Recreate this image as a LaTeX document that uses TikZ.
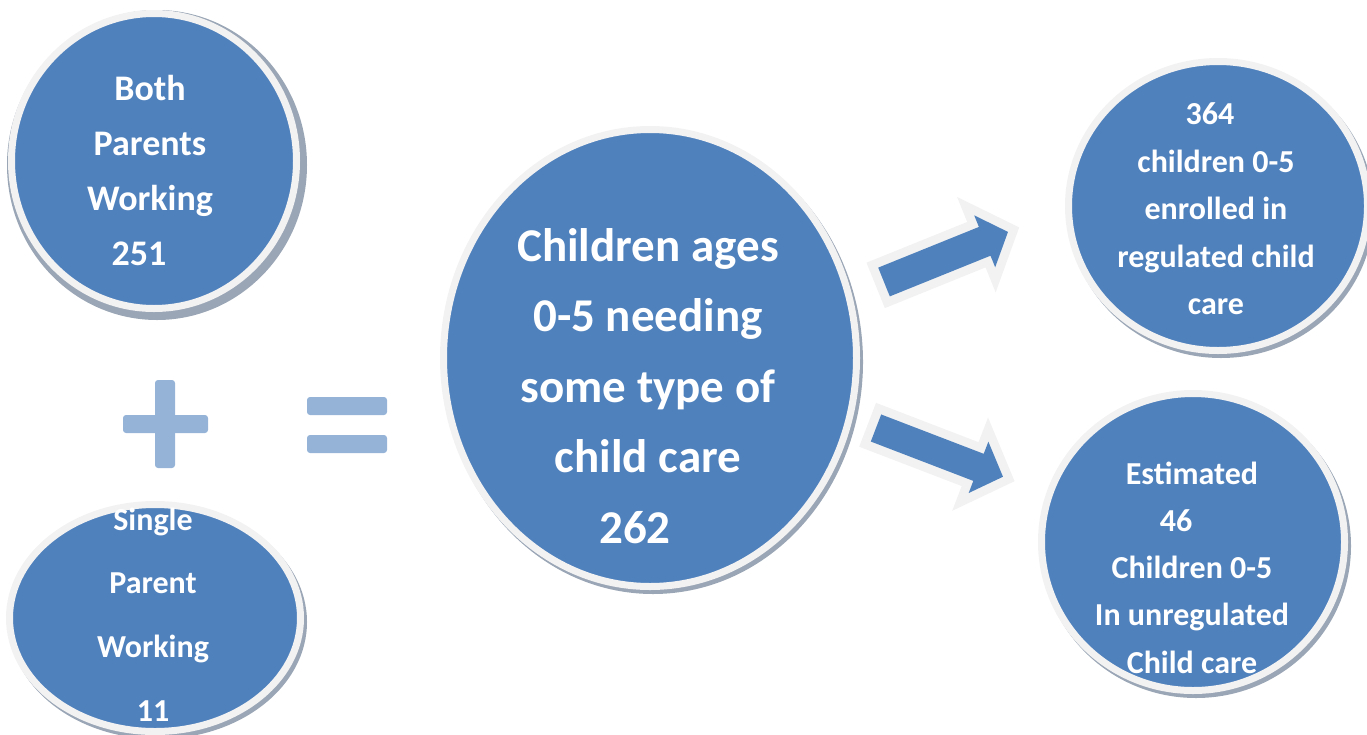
\documentclass[tikz,border=0pt]{standalone}
\usepackage{fontspec}
\setmainfont{Carlito}
\usetikzlibrary{shapes.geometric}
\definecolor{cblue}{HTML}{4F81BD}
\definecolor{cring}{HTML}{F2F2F2}
\definecolor{cshadow}{HTML}{9AA6B6}
\definecolor{csign}{HTML}{95B3D7}
\begin{document}
\begin{tikzpicture}[x=1pt,y=-1pt,
  bubble/.style={ellipse, fill=cblue, draw=cring, line width=7pt, inner sep=0pt},
  bshadow/.style={ellipse, fill=cshadow, inner sep=0pt},
  txt/.style={text=white, align=center, inner sep=0pt},
  signbar/.style={fill=csign, rounded corners=3pt},
  arrowrim/.style={draw=cring, fill=cring, line width=18pt, line join=miter},
  arrowbody/.style={fill=cblue}]
\useasboundingbox (0,0) rectangle (1367,734);
\clip (0,0) rectangle (1367,734);

% shadows
\node[bshadow, minimum width=300pt, minimum height=310pt] (s1) at (157,165) {};
\node[bshadow, minimum width=298pt, minimum height=234pt] (s2) at (158,622) {};
\node[bshadow, minimum width=420pt, minimum height=464pt] (s3) at (653,362) {};
\node[bshadow, minimum width=306pt, minimum height=296pt] (s4) at (1221,210) {};
\node[bshadow, minimum width=310pt, minimum height=304pt] (s5) at (1196,546) {};

% bubbles
\node[bubble, minimum width=285pt, minimum height=295pt] (both) at (154,161) {};
\node[bubble, minimum width=291pt, minimum height=227pt] (single) at (155,618) {};
\node[bubble, minimum width=413pt, minimum height=457pt] (need) at (650,358) {};
\node[bubble, minimum width=299pt, minimum height=289pt] (reg) at (1218,206) {};
\node[bubble, minimum width=303pt, minimum height=297pt] (unreg) at (1193,542) {};

% texts
\node[txt, font=\fontsize{36}{55}\selectfont\bfseries] (tboth) at (150,170.5)
  {Both\\Parents\\Working\\251\rule{22pt}{0pt}};
\node[txt, font=\fontsize{32}{63.7}\selectfont\bfseries] (tsingle) at (153,614.5)
  {Single\\Parent\\Working\\11};
\node[txt, font=\fontsize{47}{70.5}\selectfont\bfseries] (tneed) at (648,386)
  {Children ages\\0-5 needing\\some type of\\child care\\262\rule{26pt}{0pt}};
\node[txt, font=\fontsize{32}{47.5}\selectfont\bfseries] (treg) at (1216,209)
  {364\rule{12pt}{0pt}\\children 0-5\\enrolled in\\regulated child\\care};
\node[txt, font=\fontsize{32}{47.3}\selectfont\bfseries] (tunreg) at (1192,567.5)
  {Estimated\\46\rule{32pt}{0pt}\\Children 0-5\\In unregulated\\Child care};

% plus and equal signs
\fill[signbar] (155,380) rectangle (175,468);
\fill[signbar] (123,415) rectangle (208,433);
\fill[signbar] (307,397) rectangle (387,415);
\fill[signbar] (307,435) rectangle (387,453);

% block arrows
\begin{scope}[shift={(884,282)}, rotate=22]
  \path[arrowrim] (0,-15.5) -- (108.6,-15.5) -- (108.6,-28) -- (133.7,0) -- (108.6,28) -- (108.6,15.5) -- (0,15.5) -- cycle;
  \path[arrowbody] (0,-15.5) -- (108.6,-15.5) -- (108.6,-28) -- (133.7,0) -- (108.6,28) -- (108.6,15.5) -- (0,15.5) -- cycle;
\end{scope}
\begin{scope}[shift={(876,428)}, rotate=-21]
  \path[arrowrim] (0,-14.5) -- (109.8,-14.5) -- (109.8,-27.5) -- (136,0) -- (109.8,27.5) -- (109.8,14.5) -- (0,14.5) -- cycle;
  \path[arrowbody] (0,-14.5) -- (109.8,-14.5) -- (109.8,-27.5) -- (136,0) -- (109.8,27.5) -- (109.8,14.5) -- (0,14.5) -- cycle;
\end{scope}
\end{tikzpicture}
\end{document}
